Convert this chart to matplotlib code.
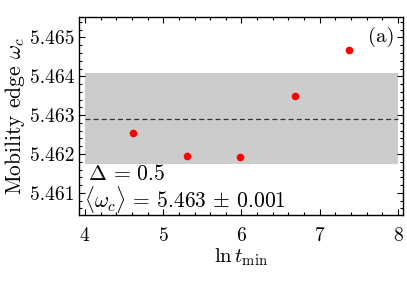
import numpy as np
import matplotlib
matplotlib.use("Agg")
import matplotlib.pyplot as plt
from matplotlib.ticker import MultipleLocator

plt.rcParams['font.family'] = ['cmr10', 'DejaVu Serif']
plt.rcParams['mathtext.fontset'] = 'cm'
plt.rcParams['axes.formatter.use_mathtext'] = True

# data
ln_tmin = [4.61, 5.30, 5.98, 6.68, 7.37]
omega_c = [5.46254, 5.46196, 5.46193, 5.46349, 5.46468]
mean_omega = 5.46291
band_lo = 5.46175
band_hi = 5.46408
band_x = [4, 8]

fig = plt.figure(figsize=(4.07, 2.88), dpi=100)
ax = fig.add_axes([0.1934, 0.2535, 0.796, 0.6865])

ax.fill_between(band_x, band_lo, band_hi, color='#cccccc', lw=0, zorder=1)
ax.plot(band_x, [mean_omega, mean_omega], ls=(0, (4, 2.5)), color='#333333', lw=0.9, zorder=2)
ax.plot(ln_tmin, omega_c, 'o', color='#ff0000', ms=5.5, mec='none', zorder=3)

ax.set_xlim(3.92, 8.06)
ax.set_ylim(5.46043, 5.46552)
ax.xaxis.set_major_locator(MultipleLocator(1))
ax.xaxis.set_minor_locator(MultipleLocator(0.2))
ax.yaxis.set_major_locator(MultipleLocator(0.001))
ax.yaxis.set_minor_locator(MultipleLocator(0.0002))
ax.yaxis.set_major_formatter(matplotlib.ticker.FormatStrFormatter('%.3f'))
ax.tick_params(which='both', direction='in', top=True, right=True, labelsize=14, width=0.8)
ax.tick_params(which='major', length=4)
ax.tick_params(axis='x', which='major', pad=9)
ax.tick_params(axis='y', which='major', pad=3)
ax.tick_params(which='minor', length=2)
for s in ax.spines.values():
    s.set_linewidth(1.0)

ax.set_xlabel(r'$\ln t_{\min}$', fontsize=15, labelpad=1)
ax.set_ylabel(r'Mobility edge $\omega_c$', fontsize=15.5, labelpad=2)

ax.text(0.975, 0.95, '(a)', transform=ax.transAxes, ha='right', va='top', fontsize=15)
ax.text(0.03, 0.155, r'$\Delta$ = 0.5', transform=ax.transAxes, ha='left', va='bottom', fontsize=15.5)
ax.text(0.017, 0.0, r'$\langle\omega_c\rangle$ = 5.463 $\pm$ 0.001', transform=ax.transAxes,
        ha='left', va='bottom', fontsize=15.5)

fig.savefig('out.png', dpi=100)
